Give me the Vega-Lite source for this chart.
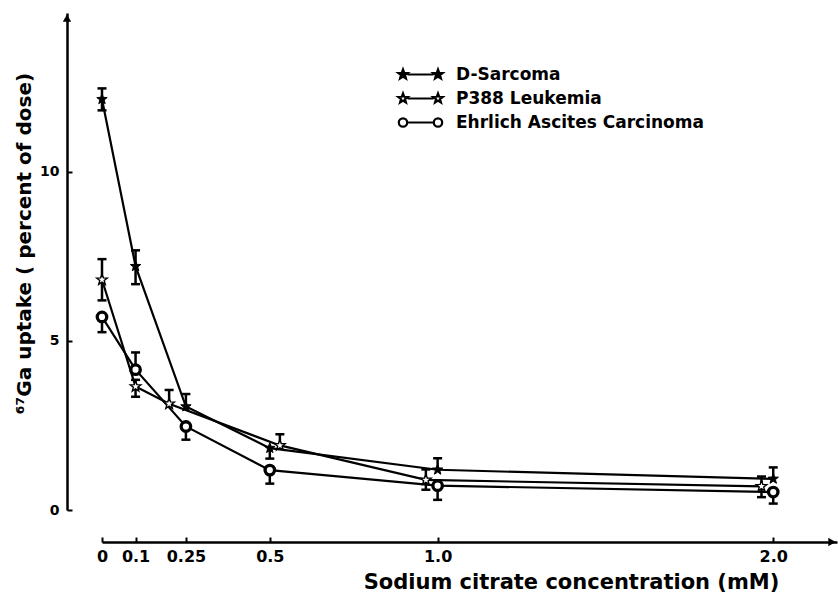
{
  "$schema": "https://vega.github.io/schema/vega-lite/v6.json",
  "width": 735,
  "height": 497,
  "autosize": {"type": "none"},
  "padding": {"left": 102, "top": 13, "right": 1, "bottom": 84},
  "background": "white",
  "config": {"view": {"stroke": null}, "font": "DejaVu Sans"},
  "data": {
    "values": [
      {"series": "D-Sarcoma", "x": 0, "y": 12.15, "lo": 11.82, "hi": 12.47},
      {"series": "D-Sarcoma", "x": 0.1, "y": 7.21, "lo": 6.68, "hi": 7.68},
      {"series": "D-Sarcoma", "x": 0.25, "y": 3.06, "lo": 3.06, "hi": 3.43},
      {"series": "D-Sarcoma", "x": 0.5, "y": 1.83, "lo": 1.52, "hi": 1.83},
      {"series": "D-Sarcoma", "x": 1.0, "y": 1.19, "lo": 1.19, "hi": 1.53},
      {"series": "D-Sarcoma", "x": 2.0, "y": 0.92, "lo": 0.92, "hi": 1.26},
      {"series": "P388 Leukemia", "x": 0, "y": 6.81, "lo": 6.2, "hi": 7.42},
      {"series": "P388 Leukemia", "x": 0.1, "y": 3.65, "lo": 3.35, "hi": 3.85},
      {"series": "P388 Leukemia", "x": 0.2, "y": 3.14, "lo": 3.14, "hi": 3.55},
      {"series": "P388 Leukemia", "x": 0.53, "y": 1.91, "lo": 1.91, "hi": 2.24},
      {"series": "P388 Leukemia", "x": 0.965, "y": 0.89, "lo": 0.6, "hi": 1.2},
      {"series": "P388 Leukemia", "x": 1.965, "y": 0.7, "lo": 0.38, "hi": 0.99},
      {"series": "Ehrlich Ascites Carcinoma", "x": 0, "y": 5.71, "lo": 5.26, "hi": 5.71},
      {"series": "Ehrlich Ascites Carcinoma", "x": 0.1, "y": 4.15, "lo": 4.15, "hi": 4.66},
      {"series": "Ehrlich Ascites Carcinoma", "x": 0.25, "y": 2.47, "lo": 2.08, "hi": 2.47},
      {"series": "Ehrlich Ascites Carcinoma", "x": 0.5, "y": 1.18, "lo": 0.78, "hi": 1.18},
      {"series": "Ehrlich Ascites Carcinoma", "x": 1.0, "y": 0.72, "lo": 0.3, "hi": 0.72},
      {"series": "Ehrlich Ascites Carcinoma", "x": 2.0, "y": 0.53, "lo": 0.19, "hi": 0.53}
    ]
  },
  "layer": [
    {
      "mark": {"type": "line", "color": "black", "strokeWidth": 2.2},
      "encoding": {
        "x": {
          "field": "x", "type": "quantitative",
          "scale": {"domain": [0, 2.19], "nice": false, "zero": false},
          "axis": {
            "values": [0, 0.1, 0.25, 0.5, 1, 2],
            "labelExpr": "datum.value >= 1 ? format(datum.value, '.1f') : format(datum.value, '~g')",
            "offset": 32, "grid": false,
            "domainColor": "black", "domainWidth": 2.5,
            "tickColor": "black", "tickWidth": 2, "tickSize": -5,
            "labelPadding": 11, "labelFont": "DejaVu Sans", "labelFontWeight": "bold",
            "labelFontSize": 16, "labelColor": "black", "labelFlush": false, "labelOverlap": false,
            "title": "Sodium citrate concentration (mM)",
            "titleFont": "DejaVu Sans", "titleFontWeight": "bold", "titleFontSize": 21,
            "titleColor": "black", "titleX": 469, "titleY": 46,
            "titleAlign": "center", "titleBaseline": "alphabetic"
          }
        },
        "y": {
          "field": "y", "type": "quantitative",
          "scale": {"domain": [0, 14.7], "nice": false},
          "axis": {
            "values": [0, 5, 10], "format": "d",
            "offset": 35, "grid": false,
            "domainColor": "black", "domainWidth": 2.5,
            "tickColor": "black", "tickWidth": 2, "tickSize": -5,
            "labelPadding": 13, "labelFont": "DejaVu Sans", "labelFontWeight": "bold",
            "labelFontSize": 14, "labelColor": "black",
            "title": "⁶⁷Ga uptake ( percent of dose)",
            "titleFont": "DejaVu Sans", "titleFontWeight": "bold", "titleFontSize": 20,
            "titleColor": "black", "titleX": -37, "titleY": 230, "titleAngle": -90,
            "titleAlign": "center", "titleBaseline": "alphabetic"
          }
        },
        "detail": {"field": "series"}
      }
    },
    {
      "mark": {"type": "rule", "color": "black", "strokeWidth": 2.5},
      "encoding": {
        "x": {"field": "x", "type": "quantitative"},
        "y": {"field": "lo", "type": "quantitative"},
        "y2": {"field": "hi"}
      }
    },
    {
      "transform": [{"filter": "datum.hi > datum.y"}],
      "mark": {"type": "tick", "orient": "horizontal", "color": "black", "size": 9, "thickness": 2.5, "opacity": 1},
      "encoding": {
        "x": {"field": "x", "type": "quantitative"},
        "y": {"field": "hi", "type": "quantitative"}
      }
    },
    {
      "transform": [{"filter": "datum.lo < datum.y"}],
      "mark": {"type": "tick", "orient": "horizontal", "color": "black", "size": 9, "thickness": 2.5, "opacity": 1},
      "encoding": {
        "x": {"field": "x", "type": "quantitative"},
        "y": {"field": "lo", "type": "quantitative"}
      }
    },
    {
      "mark": {"type": "point", "filled": true, "strokeWidth": 2.2, "opacity": 0},
      "encoding": {
        "x": {"field": "x", "type": "quantitative"},
        "y": {"field": "y", "type": "quantitative"},
        "shape": {
          "field": "series", "type": "nominal",
          "scale": {
            "domain": ["D-Sarcoma", "P388 Leukemia", "Ehrlich Ascites Carcinoma"],
            "range": [
              "M-1.75,-0.5L-1.627,-0.17L-1.274,-0.155L-1.55,0.065L-1.456,0.405L-1.75,0.21L-2.044,0.405L-1.95,0.065L-2.226,-0.155L-1.873,-0.17ZM1.75,-0.5L1.873,-0.17L2.226,-0.155L1.95,0.065L2.044,0.405L1.75,0.21L1.456,0.405L1.55,0.065L1.274,-0.155L1.627,-0.17ZM-1.3,0L1.3,0",
              "M-1.75,-0.5L-1.627,-0.17L-1.274,-0.155L-1.55,0.065L-1.456,0.405L-1.75,0.21L-2.044,0.405L-1.95,0.065L-2.226,-0.155L-1.873,-0.17ZM1.75,-0.5L1.873,-0.17L2.226,-0.155L1.95,0.065L2.044,0.405L1.75,0.21L1.456,0.405L1.55,0.065L1.274,-0.155L1.627,-0.17ZM-1.3,0L1.3,0",
              "M-2.17,0A0.42,0.42 0 1,0 -1.33,0A0.42,0.42 0 1,0 -2.17,0ZM1.33,0A0.42,0.42 0 1,0 2.17,0A0.42,0.42 0 1,0 1.33,0ZM-1.33,0L1.33,0"
            ]
          },
          "legend": {
            "title": null, "orient": "none", "legendX": 307, "legendY": 50,
            "direction": "vertical", "padding": 0, "offset": 0,
            "symbolSize": 400, "symbolStrokeWidth": 2.2, "symbolStrokeColor": "black",
            "symbolOpacity": 1,
            "labelFont": "DejaVu Sans", "labelFontWeight": "bold", "labelFontSize": 17,
            "labelColor": "black", "labelOffset": 24, "labelLimit": 400, "rowPadding": 4
          }
        },
        "fill": {
          "field": "series", "type": "nominal",
          "scale": {"domain": ["D-Sarcoma", "P388 Leukemia", "Ehrlich Ascites Carcinoma"], "range": ["black", "white", "white"]},
          "legend": {
            "title": null, "orient": "none", "legendX": 307, "legendY": 50,
            "direction": "vertical", "padding": 0, "offset": 0,
            "symbolSize": 400, "symbolStrokeWidth": 2.2, "symbolStrokeColor": "black",
            "symbolOpacity": 1,
            "labelFont": "DejaVu Sans", "labelFontWeight": "bold", "labelFontSize": 17,
            "labelColor": "black", "labelOffset": 24, "labelLimit": 400, "rowPadding": 4
          }
        },
        "stroke": {
          "field": "series", "type": "nominal",
          "scale": {"domain": ["D-Sarcoma", "P388 Leukemia", "Ehrlich Ascites Carcinoma"], "range": ["black", "black", "black"]},
          "legend": {
            "title": null, "orient": "none", "legendX": 307, "legendY": 50,
            "direction": "vertical", "padding": 0, "offset": 0,
            "symbolSize": 400, "symbolStrokeWidth": 2.2, "symbolStrokeColor": "black",
            "symbolOpacity": 1,
            "labelFont": "DejaVu Sans", "labelFontWeight": "bold", "labelFontSize": 17,
            "labelColor": "black", "labelOffset": 24, "labelLimit": 400, "rowPadding": 4
          }
        }
      }
    },
    {
      "transform": [{"filter": "datum.series === 'D-Sarcoma'"}],
      "mark": {"type": "point", "filled": true, "fill": "black", "stroke": "black", "strokeWidth": 1, "size": 120, "opacity": 1,
               "shape": "M0,-1L0.247,-0.34L0.951,-0.309L0.399,0.13L0.588,0.809L0,0.42L-0.588,0.809L-0.399,0.13L-0.951,-0.309L-0.247,-0.34Z"},
      "encoding": {
        "x": {"field": "x", "type": "quantitative"},
        "y": {"field": "y", "type": "quantitative"}
      }
    },
    {
      "transform": [{"filter": "datum.series === 'P388 Leukemia'"}],
      "mark": {"type": "point", "filled": true, "fill": "white", "stroke": "black", "strokeWidth": 1.4, "size": 125, "opacity": 1,
               "shape": "M0,-1L0.247,-0.34L0.951,-0.309L0.399,0.13L0.588,0.809L0,0.42L-0.588,0.809L-0.399,0.13L-0.951,-0.309L-0.247,-0.34Z"},
      "encoding": {
        "x": {"field": "x", "type": "quantitative"},
        "y": {"field": "y", "type": "quantitative"}
      }
    },
    {
      "transform": [{"filter": "datum.series === 'Ehrlich Ascites Carcinoma'"}],
      "mark": {"type": "point", "filled": true, "fill": "white", "stroke": "black", "strokeWidth": 3.3, "size": 90, "opacity": 1, "shape": "circle"},
      "encoding": {
        "x": {"field": "x", "type": "quantitative"},
        "y": {"field": "y", "type": "quantitative"}
      }
    },
    {
      "data": {"values": [{}]},
      "mark": {"type": "point", "shape": "triangle-up", "filled": true, "color": "black", "size": 70, "opacity": 1},
      "encoding": {
        "x": {"datum": -0.1043, "type": "quantitative"},
        "y": {"datum": 14.55, "type": "quantitative"}
      }
    },
    {
      "data": {"values": [{}]},
      "mark": {"type": "point", "shape": "triangle-right", "filled": true, "color": "black", "size": 70, "opacity": 1},
      "encoding": {
        "x": {"datum": 2.175, "type": "quantitative"},
        "y": {"datum": -0.947, "type": "quantitative"}
      }
    }
  ]
}
